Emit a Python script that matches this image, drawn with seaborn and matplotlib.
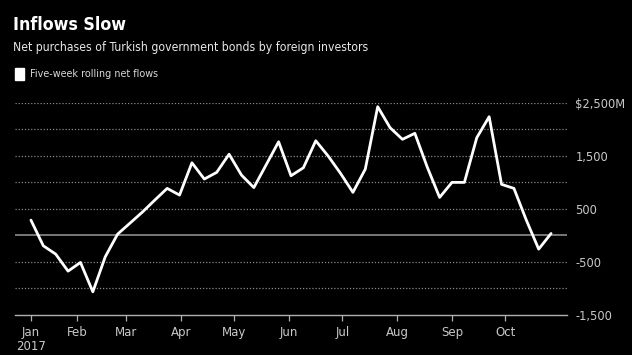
import numpy as np
import pandas as pd
import matplotlib
matplotlib.use('Agg')
import matplotlib.pyplot as plt
from matplotlib import font_manager
import seaborn as sns

# Weekly five-week rolling net flows (USD millions), Fridays from Jan 6 2017
flows = [283, -201, -358, -679, -515, -1069, -409, 19, 226, 434,
         660, 881, 755, 1364, 1057, 1183, 1525, 1132, 896, 1328,
         1760, 1119, 1270, 1779, 1491, 1164, 806, 1245, 2421, 2025,
         1806, 1919, 1283, 711, 994, 994, 1836, 2232, 957, 881,
         283, -264, 31]
dates = pd.date_range('2017-01-06', periods=len(flows), freq='7D')
month_ticks = pd.to_datetime(['2017-01-06', '2017-02-01', '2017-03-01', '2017-04-01',
                              '2017-05-01', '2017-06-01', '2017-07-01', '2017-08-01',
                              '2017-09-01', '2017-10-01'])
month_labels = ['Jan\n2017', 'Feb', 'Mar', 'Apr', 'May', 'Jun', 'Jul', 'Aug', 'Sep', 'Oct']
ytick_vals = [2500, 1500, 500, -500, -1500]
ytick_labels = ['$2,500M', '1,500', '500', '-500', '-1,500']

df = pd.DataFrame({'date': dates, 'flows': flows})

sns.set_style('dark')
plt.rcParams['font.family'] = ['DejaVu Sans']

# narrow font for the header, if one is around
names = {f.name for f in font_manager.fontManager.ttflist}
if 'Liberation Sans Narrow' in names:
    head_font = dict(family='Liberation Sans Narrow')
else:
    head_font = dict(family='DejaVu Sans', stretch='condensed')

fig = plt.figure(figsize=(6.32, 3.55), dpi=100, facecolor='black')
ax = fig.add_axes([15 / 632, 40.3 / 355, 552 / 632, 212.2 / 355])
ax.set_facecolor('black')

# grid lines
for v in [2500, 2000, 1500, 1000, 500, -500, -1000]:
    ax.axhline(v, color='#8a8a8a', lw=0.9, ls=(0, (1, 1.5)), zorder=1)
ax.axhline(0, color='#8c8c8c', lw=1.2, zorder=1)

sns.lineplot(data=df, x='date', y='flows', color='white', lw=2.0, ax=ax, zorder=3)

ax.set_xlim(pd.Timestamp('2016-12-28'), pd.Timestamp('2017-11-05'))
ax.set_ylim(-1500, 2500)

for s in ['top', 'left', 'right']:
    ax.spines[s].set_visible(False)
ax.spines['bottom'].set_color('#b0b0b0')
ax.spines['bottom'].set_linewidth(1.0)

ax.set_xticks(month_ticks)
ax.set_xticklabels(month_labels, ha='center', color='#c8c8c8', fontsize=8.5, linespacing=1.1)
ax.tick_params(axis='x', length=4, width=0.9, color='#b0b0b0', pad=4, bottom=True)

ax.yaxis.tick_right()
ax.set_yticks(ytick_vals)
ax.set_yticklabels(ytick_labels, color='#c8c8c8', fontsize=8.3)
ax.tick_params(axis='y', length=0, pad=6)
ax.set_xlabel('')
ax.set_ylabel('')
ax.grid(False)

fig.text(13 / 632, 1 - 25 / 355, 'Inflows Slow', color='white', fontsize=12.8,
         fontweight='bold', va='center', ha='left', **head_font)
fig.text(13 / 632, 1 - 48 / 355, 'Net purchases of Turkish government bonds by foreign investors',
         color='#e8e8e8', fontsize=8.75, va='center', ha='left', **head_font)
fig.patches.append(plt.Rectangle((15 / 632, 1 - 80 / 355), 9 / 632, 12 / 355,
                                 transform=fig.transFigure, color='white', figure=fig))
fig.text(30 / 632, 1 - 74 / 355, 'Five-week rolling net flows', color='#d8d8d8',
         fontsize=7.75, va='center', ha='left', **head_font)

fig.savefig('out.png', dpi=100, facecolor='black')
